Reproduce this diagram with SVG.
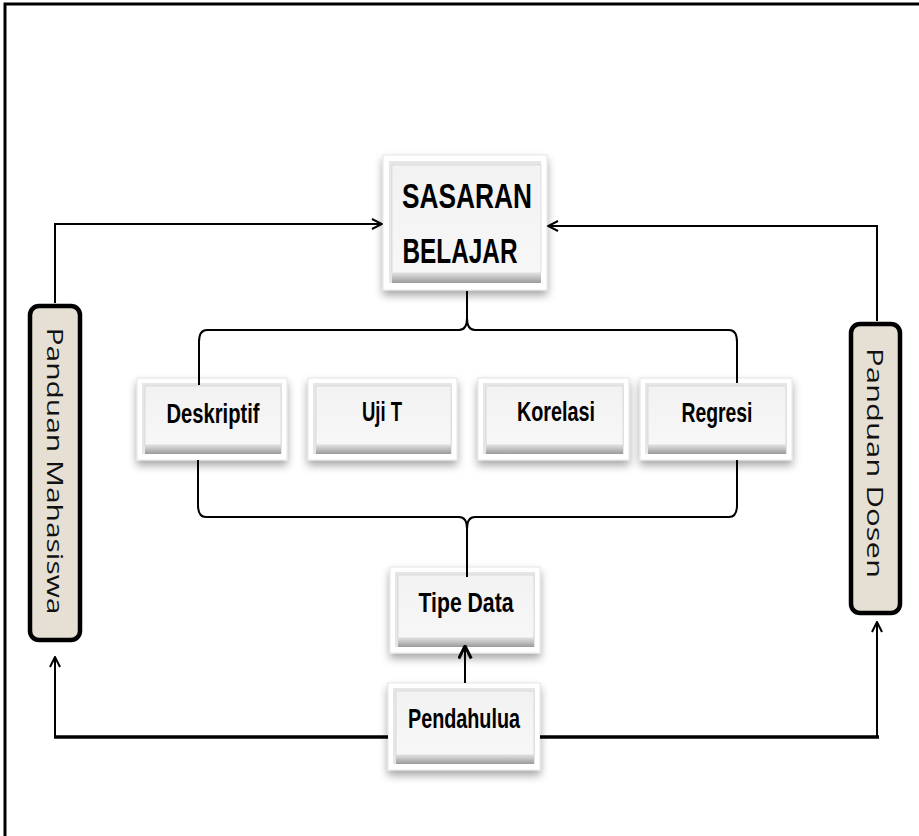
<svg xmlns="http://www.w3.org/2000/svg" width="919" height="836" viewBox="0 0 919 836">
<defs>
  <filter id="sh" x="-20%" y="-20%" width="140%" height="150%">
    <feDropShadow dx="0" dy="5" stdDeviation="4" flood-color="#000" flood-opacity="0.35"/>
  </filter>
  <linearGradient id="bev" x1="0" y1="0" x2="0" y2="1">
    <stop offset="0" stop-color="#e8e8e8"/>
    <stop offset="1" stop-color="#9a9a9a"/>
  </linearGradient>
  <linearGradient id="face" x1="0" y1="0" x2="0" y2="1">
    <stop offset="0" stop-color="#f2f2f2"/>
    <stop offset="1" stop-color="#f7f7f7"/>
  </linearGradient>
  <marker id="ah" viewBox="0 0 12 12" refX="11" refY="6" markerWidth="12" markerHeight="12" markerUnits="userSpaceOnUse" orient="auto">
    <path d="M1,1 L11,6 L1,11" fill="none" stroke="#000" stroke-width="2"/>
  </marker>
  <marker id="ah2" viewBox="0 0 12 12" refX="11" refY="6" markerWidth="15" markerHeight="15" markerUnits="userSpaceOnUse" orient="auto">
    <path d="M1,1 L11,6 L1,11" fill="none" stroke="#000" stroke-width="2.4"/>
  </marker>
</defs>
<style>
  .outer { fill:#ffffff; stroke:#e4e4e4; stroke-width:1; filter:url(#sh); }
  .face { fill:url(#face); stroke:#d6d6d6; stroke-width:0.8; }
  .bev { fill:url(#bev); }
  .side { fill:#e6e6e6; }
  .lbl { font-family:"Liberation Sans", Arial, sans-serif; font-weight:bold; fill:#000; text-anchor:middle; }
  .side-box { fill:#e6dfd3; stroke:#000; stroke-width:4.5; }
  .vlbl { font-family:"Open Sans", "Noto Sans", sans-serif; font-size:22px; fill:#111; text-anchor:middle; }
  .ln { fill:none; stroke:#000; stroke-width:2; }
</style>

<rect width="919" height="836" fill="#fff"/>
<!-- frame -->
<path d="M5,836 L5,4 L919,4" fill="none" stroke="#000" stroke-width="3"/>

<g id="sasaran">
  <rect class="outer" x="383" y="155" width="164" height="135"/>
  <rect class="side" x="389" y="161" width="152" height="122"/>
  <rect class="bev" x="392" y="272" width="149" height="11"/>
  <rect class="face" x="392" y="165" width="149" height="108"/>
  <text class="lbl" x="467" y="208" font-size="35" textLength="130" lengthAdjust="spacingAndGlyphs">SASARAN</text>
  <text class="lbl" x="460" y="263" font-size="35" textLength="115" lengthAdjust="spacingAndGlyphs">BELAJAR</text>
</g>

<g id="deskriptif">
  <rect class="outer" x="137" y="378" width="150" height="82"/>
  <rect class="side" x="142" y="383" width="140" height="71"/>
  <rect class="bev" x="145" y="444" width="136" height="10"/>
  <rect class="face" x="145" y="386" width="136" height="59"/>
  <text class="lbl" x="213" y="423" font-size="28" textLength="93" lengthAdjust="spacingAndGlyphs">Deskriptif</text>
</g>

<g id="ujit">
  <rect class="outer" x="308" y="378" width="149" height="82"/>
  <rect class="side" x="313" y="383" width="139" height="71"/>
  <rect class="bev" x="316" y="444" width="135" height="10"/>
  <rect class="face" x="316" y="386" width="135" height="59"/>
  <text class="lbl" x="382" y="421" font-size="28" textLength="40" lengthAdjust="spacingAndGlyphs">Uji T</text>
</g>

<g id="korelasi">
  <rect class="outer" x="478" y="378" width="151" height="82"/>
  <rect class="side" x="483" y="383" width="141" height="71"/>
  <rect class="bev" x="486" y="444" width="137" height="10"/>
  <rect class="face" x="486" y="386" width="137" height="59"/>
  <text class="lbl" x="556" y="421" font-size="28" textLength="78" lengthAdjust="spacingAndGlyphs">Korelasi</text>
</g>

<g id="regresi">
  <rect class="outer" x="640" y="378" width="152" height="82"/>
  <rect class="side" x="645" y="383" width="142" height="71"/>
  <rect class="bev" x="648" y="444" width="138" height="10"/>
  <rect class="face" x="648" y="386" width="138" height="59"/>
  <text class="lbl" x="717" y="422" font-size="28" textLength="71" lengthAdjust="spacingAndGlyphs">Regresi</text>
</g>

<g id="tipedata">
  <rect class="outer" x="390" y="567" width="150" height="86"/>
  <rect class="side" x="395" y="572" width="140" height="75"/>
  <rect class="bev" x="398" y="637" width="136" height="10"/>
  <rect class="face" x="398" y="575" width="136" height="63"/>
  <text class="lbl" x="466" y="612" font-size="28" textLength="95" lengthAdjust="spacingAndGlyphs">Tipe Data</text>
</g>

<g id="pendahulua">
  <rect class="outer" x="388" y="683" width="152" height="87"/>
  <rect class="side" x="393" y="688" width="142" height="76"/>
  <rect class="bev" x="396" y="754" width="138" height="10"/>
  <rect class="face" x="396" y="691" width="138" height="64"/>
  <text class="lbl" x="464" y="728" font-size="28" textLength="112" lengthAdjust="spacingAndGlyphs">Pendahulua</text>
</g>

<g id="panduan-mahasiswa">
  <rect class="side-box" x="30" y="306" width="50" height="334" rx="9"/>
  <text class="vlbl" transform="translate(47,471) rotate(90)" textLength="287" lengthAdjust="spacingAndGlyphs">Panduan Mahasiswa</text>
</g>

<g id="panduan-dosen">
  <rect class="side-box" x="851" y="324" width="49" height="289" rx="9"/>
  <text class="vlbl" transform="translate(867,463) rotate(90)" textLength="230" lengthAdjust="spacingAndGlyphs">Panduan Dosen</text>
</g>

<g id="connectors">
  <!-- top left -->
  <path class="ln" d="M55,303 L55,224 L382,224" marker-end="url(#ah)"/>
  <!-- top right -->
  <path class="ln" d="M877,321 L877,226 L548,226" marker-end="url(#ah)"/>
  <!-- upper brace -->
  <path class="ln" d="M467,291 L467,318 Q467,330 459,330 L207,330 Q199,330 199,342 L199,385"/>
  <path class="ln" d="M467,318 Q467,330 475,330 L729,330 Q737,330 737,342 L737,383"/>
  <!-- lower brace -->
  <path class="ln" d="M198,460 L198,505 Q198,517 206,517 L459,517 Q467,517 467,529 L467,577"/>
  <path class="ln" d="M737,460 L737,505 Q737,517 729,517 L475,517 Q467,517 467,529"/>
  <!-- Pendahulua to Tipe Data -->
  <path class="ln" d="M465,683 L465,646" stroke-width="3" marker-end="url(#ah2)"/>
  <!-- bottom lines -->
  <path fill="none" stroke="#000" stroke-width="3.5" d="M388,737 L54,737"/>
  <path class="ln" d="M55,738 L55,657" marker-end="url(#ah)"/>
  <path fill="none" stroke="#000" stroke-width="3.5" d="M540,737 L879,737"/>
  <path class="ln" d="M877,738 L877,622" stroke-width="2.5" marker-end="url(#ah)"/>
</g>
</svg>
